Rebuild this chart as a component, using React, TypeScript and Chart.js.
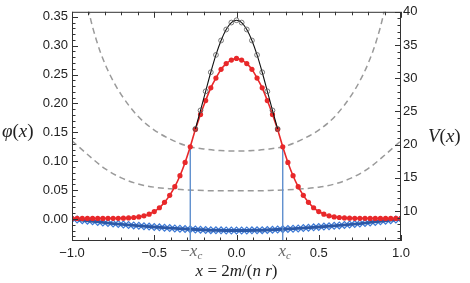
import React, { useEffect, useRef } from "react";
import { Chart, registerables } from "chart.js";

Chart.register(...registerables);

// ---- data ----
const nr = 32; // x = m / nr sampling of the discrete points
const mIndex = [
  -32, -31, -30, -29, -28, -27, -26, -25, -24, -23, -22, -21, -20, -19, -18, -17,
  -16, -15, -14, -13, -12, -11, -10, -9, -8, -7, -6, -5, -4, -3, -2, -1,
  0,
  1, 2, 3, 4, 5, 6, 7, 8, 9, 10, 11, 12, 13, 14, 15, 16,
  17, 18, 19, 20, 21, 22, 23, 24, 25, 26, 27, 28, 29, 30, 31, 32,
];

// red filled dots + red curve (phi)
const redPhi = [
  0.0010, 0.0010, 0.0010, 0.0010, 0.0010, 0.0011, 0.0011, 0.0012, 0.0012, 0.0013, 0.0015, 0.0020, 0.0027, 0.0037, 0.0055, 0.0085,
  0.0130, 0.0195, 0.0290, 0.0410, 0.0560, 0.0750, 0.0980, 0.1250, 0.1550, 0.1810, 0.2050, 0.2270, 0.2440, 0.2590, 0.2690, 0.2750,
  0.2780,
  0.2750, 0.2690, 0.2590, 0.2440, 0.2270, 0.2050, 0.1810, 0.1550, 0.1250, 0.0980, 0.0750, 0.0560, 0.0410, 0.0290, 0.0195, 0.0130,
  0.0085, 0.0055, 0.0037, 0.0027, 0.0020, 0.0015, 0.0013, 0.0012, 0.0012, 0.0011, 0.0011, 0.0010, 0.0010, 0.0010, 0.0010, 0.0010,
];

// black curve + open circles (phi), inside |x| < x_c
const blackM = [-8, -7, -6, -5, -4, -3, -2, -1, 0, 1, 2, 3, 4, 5, 6, 7, 8];
const blackPhi = [
  0.156, 0.188, 0.221, 0.254, 0.284, 0.309, 0.328, 0.340, 0.344,
  0.340, 0.328, 0.309, 0.284, 0.254, 0.221, 0.188, 0.156,
];

// blue open diamonds (phi)
const diamondPhi = [
  0.0000, -0.0010, -0.0020, -0.0030, -0.0040, -0.0050, -0.0059, -0.0069, -0.0078, -0.0086, -0.0094, -0.0102, -0.0110, -0.0117, -0.0124, -0.0131,
  -0.0138, -0.0144, -0.0150, -0.0156, -0.0162, -0.0167, -0.0172, -0.0177, -0.0181, -0.0185, -0.0189, -0.0192, -0.0194, -0.0196, -0.0197, -0.0198,
  -0.0198,
  -0.0198, -0.0197, -0.0196, -0.0194, -0.0192, -0.0189, -0.0185, -0.0181, -0.0177, -0.0172, -0.0167, -0.0162, -0.0156, -0.0150, -0.0144, -0.0138,
  -0.0131, -0.0124, -0.0117, -0.0110, -0.0102, -0.0094, -0.0086, -0.0078, -0.0069, -0.0059, -0.0050, -0.0040, -0.0030, -0.0020, -0.0010, 0.0000,
];

// blue solid curve (phi)
const blueLineX = [-1, -0.875, -0.75, -0.625, -0.5, -0.375, -0.25, -0.125, 0, 0.125, 0.25, 0.375, 0.5, 0.625, 0.75, 0.875, 1];
const blueLinePhi = [
  0.0, -0.0040, -0.0078, -0.0110, -0.0138, -0.0162, -0.0181, -0.0194, -0.0198,
  -0.0194, -0.0181, -0.0162, -0.0138, -0.0110, -0.0078, -0.0040, 0.0,
];

// gray dashed potentials V(x) on the right axis
const upperVX = [-0.92, -0.9, -0.85, -0.8, -0.75, -0.7, -0.6, -0.5, -0.4, -0.3, -0.2, -0.1, 0, 0.1, 0.2, 0.3, 0.4, 0.5, 0.6, 0.7, 0.75, 0.8, 0.85, 0.9, 0.92];
const upperV = [43.5, 40.4, 35.6, 32.2, 29.6, 27.5, 24.3, 22.2, 20.8, 19.8, 19.35, 19.12, 19.05, 19.12, 19.35, 19.8, 20.8, 22.2, 24.3, 27.5, 29.6, 32.2, 35.6, 40.4, 43.5];
const lowerVX = [-1, -0.9, -0.8, -0.7, -0.6, -0.5, -0.4, -0.3, -0.2, -0.1, 0, 0.1, 0.2, 0.3, 0.4, 0.5, 0.6, 0.7, 0.8, 0.9, 1];
const lowerV = [20.6, 18.4, 16.4, 15.0, 14.1, 13.6, 13.35, 13.2, 13.1, 13.05, 13.05, 13.05, 13.1, 13.2, 13.35, 13.6, 14.1, 15.0, 16.4, 18.4, 20.6];

// critical point
const xc = 0.281;
const phiAtXc = 0.125;

// axes
const xTicks = [-1, -0.5, 0, 0.5, 1];
const phiTicks = [0, 0.05, 0.1, 0.15, 0.2, 0.25, 0.3, 0.35];
const vTicks = [10, 15, 20, 25, 30, 35, 40];
const xRange = [-1, 1];
const phiRange = [-0.038, 0.3586];
const vRange = [5.5, 40];

const TICK_FONT = "'Liberation Sans', Arial, sans-serif";
const MATH_FONT = "'Liberation Serif', 'Times New Roman', serif";

type Run = { t: string; italic?: boolean; size?: number; dy?: number };

function drawRuns(ctx: CanvasRenderingContext2D, runs: Run[], x: number, y: number, align: "left" | "center", base: number, color: string) {
  const widths = runs.map((r) => {
    ctx.font = `${r.italic ? "italic " : ""}${r.size || base}px ${MATH_FONT}`;
    return ctx.measureText(r.t).width;
  });
  const total = widths.reduce((a, b) => a + b, 0);
  let cx = align === "center" ? x - total / 2 : x;
  ctx.fillStyle = color;
  ctx.textBaseline = "middle";
  ctx.textAlign = "left";
  runs.forEach((r, i) => {
    ctx.font = `${r.italic ? "italic " : ""}${r.size || base}px ${MATH_FONT}`;
    ctx.fillText(r.t, cx, y + (r.dy || 0));
    cx += widths[i];
  });
}

const framePlugin = {
  id: "frame",
  afterDraw(chart: any) {
    const { ctx, chartArea: a, scales } = chart;
    const sx = scales.x, sy = scales.y, sv = scales.y2;
    ctx.save();
    ctx.strokeStyle = "#333";
    ctx.lineWidth = 1;
    ctx.strokeRect(a.left + 0.5, a.top + 0.5, a.right - a.left - 1, a.bottom - a.top - 1);
    ctx.beginPath();
    // x ticks bottom and top
    for (let k = -10; k <= 10; k++) {
      const v = k / 10;
      const p = Math.round(sx.getPixelForValue(v)) + 0.5;
      const len = k % 5 === 0 ? 6 : 3.5;
      ctx.moveTo(p, a.bottom);
      ctx.lineTo(p, a.bottom - len);
      ctx.moveTo(p, a.top);
      ctx.lineTo(p, a.top + len);
    }
    // left phi ticks
    for (let k = -3; k <= 35; k++) {
      const v = k / 100;
      const p = Math.round(sy.getPixelForValue(v)) + 0.5;
      const len = k % 5 === 0 ? 6 : 3.5;
      ctx.moveTo(a.left, p);
      ctx.lineTo(a.left + len, p);
    }
    // right V ticks
    for (let k = 6; k <= 40; k++) {
      const p = Math.round(sv.getPixelForValue(k)) + 0.5;
      const len = k % 5 === 0 ? 6 : 3.5;
      ctx.moveTo(a.right, p);
      ctx.lineTo(a.right - len, p);
    }
    ctx.stroke();

    // x_c tick labels
    const labY = a.bottom + 11;
    drawRuns(ctx, [{ t: "\u2212" }, { t: "x", italic: true }, { t: "c", italic: true, size: 11, dy: 4 }], sx.getPixelForValue(-xc) + 1, labY, "center", 17, "#666");
    drawRuns(ctx, [{ t: "x", italic: true }, { t: "c", italic: true, size: 11, dy: 4 }], sx.getPixelForValue(xc) + 2, labY, "center", 17, "#666");

    // axis titles
    drawRuns(
      ctx,
      [
        { t: "x", italic: true },
        { t: " = 2" },
        { t: "m", italic: true },
        { t: "/(" },
        { t: "n", italic: true },
        { t: " " },
        { t: "r", italic: true },
        { t: ")" },
      ],
      (a.left + a.right) / 2,
      a.bottom + 30.5,
      "center",
      17,
      "#222"
    );
    drawRuns(ctx, [{ t: "\u03C6", italic: true }, { t: "(" }, { t: "x", italic: true }, { t: ")" }], 2, sy.getPixelForValue(0.15), "left", 19, "#222");
    drawRuns(ctx, [{ t: "V", italic: true }, { t: "(" }, { t: "x", italic: true }, { t: ")" }], 428, sv.getPixelForValue(21.2), "left", 19, "#222");
    ctx.restore();
  },
};

export default function App() {
  const ref = useRef<HTMLCanvasElement | null>(null);

  useEffect(() => {
    if (!ref.current) return;
    const xs = mIndex.map((m) => m / nr);
    const chart = new Chart(ref.current, {
      type: "scatter",
      data: {
        datasets: [
          {
            label: "black points",
            data: blackM.map((m, i) => ({ x: m / nr, y: blackPhi[i] })),
            showLine: false,
            pointStyle: "circle",
            pointRadius: 2.4,
            pointBorderWidth: 0.8,
            pointBorderColor: "#555",
            pointBackgroundColor: "rgba(255,255,255,0)",
            order: 0,
          },
          {
            label: "black curve",
            data: blackM.map((m, i) => ({ x: m / nr, y: blackPhi[i] })),
            showLine: true,
            pointRadius: 0,
            borderColor: "#111",
            borderWidth: 1.1,
            cubicInterpolationMode: "monotone",
            order: 1,
          },
          {
            label: "red",
            data: xs.map((x, i) => ({ x, y: redPhi[i] })),
            showLine: true,
            borderColor: "#e8282a",
            borderWidth: 1.6,
            cubicInterpolationMode: "monotone",
            pointRadius: 2.6,
            pointBorderWidth: 0,
            pointBackgroundColor: "#e8282a",
            order: 2,
          },
          {
            label: "-xc",
            data: [{ x: -xc, y: phiRange[0] }, { x: -xc, y: phiAtXc }],
            showLine: true,
            pointRadius: 0,
            borderColor: "#5f8fce",
            borderWidth: 1.4,
            order: 3,
          },
          {
            label: "xc",
            data: [{ x: xc, y: phiRange[0] }, { x: xc, y: phiAtXc }],
            showLine: true,
            pointRadius: 0,
            borderColor: "#5f8fce",
            borderWidth: 1.4,
            order: 3,
          },
          {
            label: "blue curve",
            data: blueLineX.map((x, i) => ({ x, y: blueLinePhi[i] })),
            showLine: true,
            pointRadius: 0,
            borderColor: "#2b58a6",
            borderWidth: 2.8,
            cubicInterpolationMode: "monotone",
            order: 4,
          },
          {
            label: "blue diamonds",
            data: xs.map((x, i) => ({ x, y: diamondPhi[i] })),
            showLine: false,
            pointStyle: "rectRot",
            pointRadius: 3.4,
            pointBorderWidth: 1.2,
            pointBorderColor: "#3d7ad6",
            pointBackgroundColor: "rgba(255,255,255,0.85)",
            order: 5,
          },
          {
            label: "V upper",
            yAxisID: "y2",
            data: upperVX.map((x, i) => ({ x, y: upperV[i] })),
            showLine: true,
            pointRadius: 0,
            borderColor: "#9a9a9a",
            borderWidth: 1.5,
            borderDash: [6, 4],
            cubicInterpolationMode: "monotone",
            order: 6,
          },
          {
            label: "V lower",
            yAxisID: "y2",
            data: lowerVX.map((x, i) => ({ x, y: lowerV[i] })),
            showLine: true,
            pointRadius: 0,
            borderColor: "#9a9a9a",
            borderWidth: 1.5,
            borderDash: [6, 4],
            cubicInterpolationMode: "monotone",
            order: 7,
          },
        ],
      },
      options: {
        animation: false,
        responsive: false,
        devicePixelRatio: 1,
        layout: { padding: { top: 11, left: 0, right: 0, bottom: 0 } },
        plugins: { legend: { display: false }, tooltip: { enabled: false } },
        scales: {
          x: {
            type: "linear",
            position: "bottom",
            min: xRange[0],
            max: xRange[1],
            grid: { display: false, drawTicks: false },
            border: { display: false },
            afterBuildTicks: (ax: any) => {
              ax.ticks = xTicks.map((v) => ({ value: v }));
            },
            afterFit: (s: any) => {
              s.height = 42;
            },
            ticks: {
              padding: 5,
              color: "#222",
              font: { family: TICK_FONT, size: 13 },
              maxRotation: 0,
              callback: (v: any) => (Number(v) < 0 ? "\u2212" : "") + Math.abs(Number(v)).toFixed(1),
            },
          },
          y: {
            type: "linear",
            position: "left",
            min: phiRange[0],
            max: phiRange[1],
            grid: { display: false, drawTicks: false },
            border: { display: false },
            afterBuildTicks: (ax: any) => {
              ax.ticks = phiTicks.map((v) => ({ value: v }));
            },
            afterFit: (s: any) => {
              s.width = 72;
            },
            ticks: {
              padding: 4,
              color: "#222",
              font: { family: TICK_FONT, size: 13 },
              callback: (v: any) => Number(v).toFixed(2),
            },
          },
          y2: {
            type: "linear",
            position: "right",
            min: vRange[0],
            max: vRange[1],
            grid: { display: false, drawTicks: false },
            border: { display: false },
            afterBuildTicks: (ax: any) => {
              ax.ticks = vTicks.map((v) => ({ value: v }));
            },
            afterFit: (s: any) => {
              s.width = 69;
            },
            ticks: {
              padding: 2,
              color: "#222",
              font: { family: TICK_FONT, size: 13 },
              callback: (v: any) => String(v),
            },
          },
        },
      },
      plugins: [framePlugin],
    } as any);
    return () => chart.destroy();
  }, []);

  return (
    <div style={{ position: "absolute", left: 0, top: 0, width: 470, height: 283, background: "#fff" }}>
      <canvas ref={ref} width={470} height={283} style={{ width: 470, height: 283, display: "block" }} />
    </div>
  );
}
